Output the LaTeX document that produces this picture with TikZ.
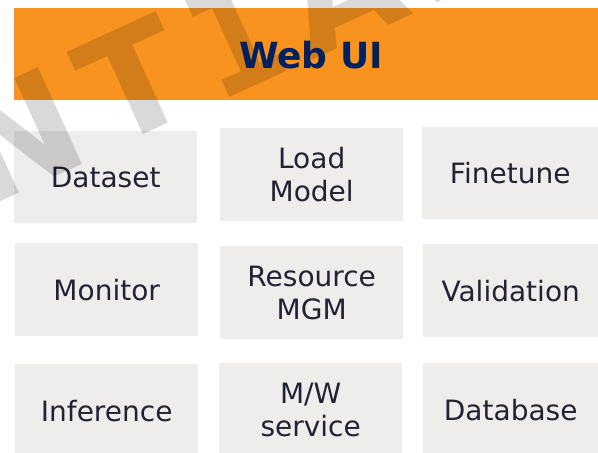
\documentclass[tikz,border=0pt]{standalone}
\usepackage{fontspec}
\setmainfont{DejaVu Sans}
\newfontfamily\wmmono{DejaVu Sans Mono}
\definecolor{hdrorange}{HTML}{F7931E}
\definecolor{navy}{HTML}{002060}
\definecolor{boxgray}{HTML}{EEEDEB}
\definecolor{boxtext}{HTML}{222233}
\begin{document}
\begin{tikzpicture}[x=1pt,y=-1pt,
  box/.style={fill=boxgray, draw=none, inner sep=0pt, text=boxtext,
    font=\fontsize{28}{33}\selectfont, align=center, anchor=north west},
  wm/.style={text=black, text opacity=0.15, rotate=24.5, anchor=base,
    inner sep=0pt, font=\fontsize{146}{146}\selectfont\bfseries}]
\useasboundingbox (0,0) rectangle (598,453);
\clip (0,0) rectangle (598,453);
% header bar
\node[fill=hdrorange, minimum width=584pt, minimum height=92pt, inner sep=0pt,
      anchor=north west] (header) at (14,8) {};
% grid of boxes
\node[box, minimum width=183pt, minimum height=92pt] (dataset) at (14,131) {Dataset};
\node[box, minimum width=183pt, minimum height=93pt] (load) at (220,128) {Load\\Model};
\node[box, minimum width=176pt, minimum height=92pt] (finetune) at (422,127) {Finetune};
\node[box, minimum width=183pt, minimum height=93pt] (monitor) at (15,243) {Monitor};
\node[box, minimum width=183pt, minimum height=93pt] (resource) at (220,246) {Resource\\MGM};
\node[box, minimum width=175pt, minimum height=93pt] (validation) at (423,244) {Validation};
\node[box, minimum width=183pt, minimum height=93pt] (inference) at (15,364) {Inference};
\node[box, minimum width=183pt, minimum height=93pt] (mw) at (219,363) {M/W\\service};
\node[box, minimum width=175pt, minimum height=93pt] (database) at (423,363) {Database};
% watermark
\node[wm] (wmN) at (39,184) {N};
\node[wm] (wmT) at (156,129) {T};
\node[wm, font=\fontsize{146}{146}\selectfont\wmmono\bfseries] (wmI) at (258,84) {I};
\node[wm] (wmA) at (363,37) {A};
\node[wm] (wmL) at (467,-11) {L};
% title
\node[text=navy, font=\fontsize{36}{36}\selectfont\bfseries, inner sep=0pt] (title)
  at (311,55) {Web UI};
\end{tikzpicture}
\end{document}
